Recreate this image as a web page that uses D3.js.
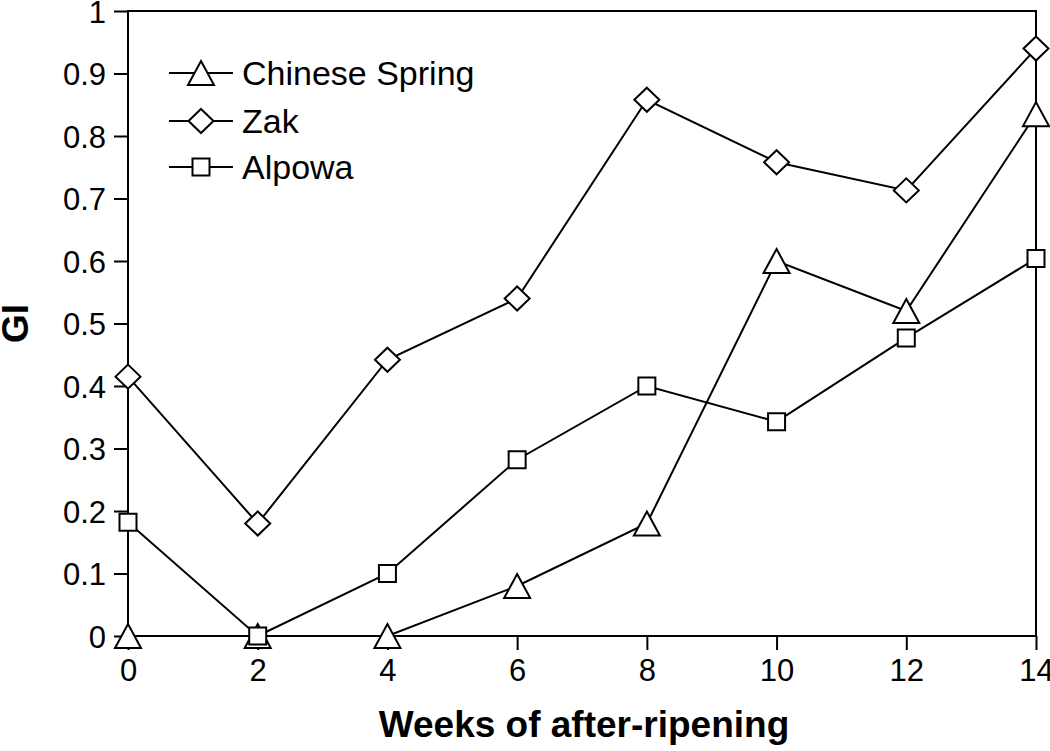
<!DOCTYPE html>
<html>
<head>
<meta charset="utf-8">
<script src="https://cdn.jsdelivr.net/npm/d3@7"></script>
<style>
body { margin: 0; background: #fff; }
text { font-family: "Liberation Sans", Arial, sans-serif; }
</style>
</head>
<body>
<div id="container"></div>
<script>
var weeks = [0, 2, 4, 6, 8, 10, 12, 14];
var chineseSpring = [0, 0, 0, 0.08, 0.18, 0.60, 0.52, 0.835];
var zak = [0.415, 0.18, 0.442, 0.54, 0.858, 0.758, 0.713, 0.94];
var alpowa = [0.182, 0, 0.10, 0.282, 0.40, 0.343, 0.477, 0.604];
var yTicks = [0, 0.1, 0.2, 0.3, 0.4, 0.5, 0.6, 0.7, 0.8, 0.9, 1];
var seriesNames = ["Chinese Spring", "Zak", "Alpowa"];
var seriesShapes = ["triangle", "diamond", "square"];

var w = 1050, h = 751;
var mLeft = 128, mRight = 1036, mTop = 11, mBottom = 636;

var svg = d3.select("#container").append("svg")
    .attr("width", w).attr("height", h);

var x = d3.scaleLinear().domain([0, 14]).range([mLeft, mRight]);
var y = d3.scaleLinear().domain([0, 1]).range([mBottom, mTop]);

// formes des marqueurs
function shapePath(s) {
    if (s == "triangle") return "M0,-12L13,12L-13,12Z";
    if (s == "diamond") return "M0,-12L12.5,0L0,12L-12.5,0Z";
    return "M-8.5,-8.5L8.5,-8.5L8.5,8.5L-8.5,8.5Z";
}

// cadre
svg.append("rect")
    .attr("x", mLeft).attr("y", mTop)
    .attr("width", mRight - mLeft).attr("height", mBottom - mTop)
    .attr("fill", "none").attr("stroke", "#000").attr("stroke-width", 2);

var xAxis = svg.append("g")
    .attr("transform", "translate(0," + mBottom + ")")
    .call(d3.axisBottom(x).tickValues(weeks).tickSize(14).tickPadding(9).tickFormat(d3.format("d")));
var yAxis = svg.append("g")
    .attr("transform", "translate(" + mLeft + ",0)")
    .call(d3.axisLeft(y).tickValues(yTicks).tickSize(14).tickPadding(8).tickFormat(function(d) { return d == 0 || d == 1 ? d : d3.format(".1f")(d); }));

[xAxis, yAxis].forEach(function(a) {
    a.select(".domain").remove();
    a.selectAll("line").attr("stroke", "#000").attr("stroke-width", 2);
    a.selectAll("text").attr("font-size", 31).attr("fill", "#000")
        .style("font-family", "'Liberation Sans', Arial, sans-serif");
});
yAxis.selectAll("text").attr("dy", "0.36em");

svg.append("text")
    .attr("x", (mLeft + mRight) / 2 + 2).attr("y", 737)
    .attr("text-anchor", "middle").attr("font-size", 37).attr("font-weight", "bold")
    .text("Weeks of after-ripening");
svg.append("text")
    .attr("transform", "translate(28," + (mTop + mBottom) / 2 + ") rotate(-90)")
    .attr("text-anchor", "middle").attr("font-size", 37).attr("font-weight", "bold")
    .text("GI");

var allSeries = [chineseSpring, zak, alpowa];
var line = d3.line()
    .x(function(d, i) { return x(weeks[i]); })
    .y(function(d) { return y(d); });

allSeries.forEach(function(vals, k) {
    svg.append("path")
        .attr("d", line(vals))
        .attr("fill", "none").attr("stroke", "#000").attr("stroke-width", 2);
    svg.selectAll(".m" + k)
        .data(vals)
        .enter()
        .append("path")
        .attr("class", "m" + k)
        .attr("d", shapePath(seriesShapes[k]))
        .attr("transform", function(d, i) { return "translate(" + x(weeks[i]) + "," + y(d) + ")"; })
        .attr("fill", "#fff").attr("stroke", "#000").attr("stroke-width", 2);
});

// légende
var legend = svg.append("g");
var legendY = [73, 121, 167];
seriesNames.forEach(function(name, k) {
    var g = legend.append("g").attr("transform", "translate(0," + legendY[k] + ")");
    g.append("line").attr("x1", 169).attr("x2", 233).attr("y1", 0).attr("y2", 0)
        .attr("stroke", "#000").attr("stroke-width", 2);
    g.append("path").attr("d", shapePath(seriesShapes[k]))
        .attr("transform", "translate(201,0)")
        .attr("fill", "#fff").attr("stroke", "#000").attr("stroke-width", 2);
    g.append("text").attr("x", 242).attr("y", 0).attr("dy", "0.36em")
        .attr("font-size", 34).text(name);
});
</script>
</body>
</html>
